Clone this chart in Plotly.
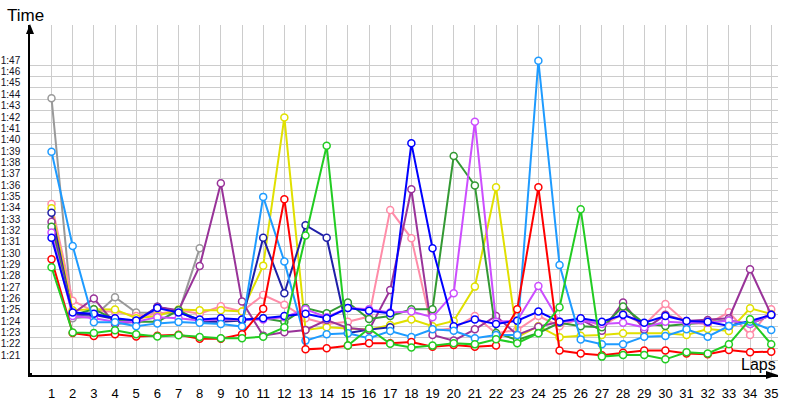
import plotly.graph_objects as go

laps = list(range(1, 36))

red = [89.5, 83.0, 82.73, 82.9, 82.7, 82.75, 82.85, 82.5, 82.5, 82.9, 85.15, 94.8, 81.56, 81.65, 81.9, 82.1, 82.1, 82.2,
       81.8, 81.95, 81.8, 81.9, 85.1, 95.84, 81.45, 81.2, 81.05, 81.27, 81.45, 81.45, 81.2, 81.12, 81.51, 81.3, 81.36]
green = [88.8, 83.05, 83.0, 83.25, 82.9, 82.7, 82.8, 82.65, 82.53, 82.55, 82.68, 83.5, 91.6, 99.5, 81.9, 83.4, 82.05,
         81.73, 81.89, 82.1, 82.0, 82.45, 82.1, 82.98, 85.27, 93.9, 80.92, 81.07, 81.07, 80.68, 81.3, 81.2, 82.01, 84.21, 82.01]
dark_green = [92.37, 84.6, 85.1, 84.2, 84.0, 84.0, 85.0, 84.1, 84.2, 84.1, 84.3, 84.0, 85.2, 84.74, 85.7, 84.24, 84.5,
              85.1, 85.1, 98.6, 96.0, 83.0, 82.4, 83.0, 83.9, 83.6, 83.5, 85.33, 83.86, 83.62, 83.8, 83.92, 84.1, 83.8, 84.59]
yellow = [94.0, 85.0, 85.1, 85.08, 84.3, 84.5, 85.08, 85.0, 85.0, 84.9, 88.94, 102.0, 83.27, 83.5, 83.4, 83.3, 83.7,
          84.2, 83.6, 84.06, 87.09, 95.84, 82.62, 83.6, 82.62, 82.76, 82.82, 82.97, 82.97, 82.98, 82.83, 83.36, 83.18, 85.18, 84.68]
light_blue = [98.98, 90.67, 83.94, 83.94, 83.6, 83.85, 83.97, 83.9, 83.8, 83.57, 95.0, 89.3, 82.33, 82.9, 82.98, 82.54,
              83.18, 82.65, 83.33, 83.2, 82.54, 82.83, 82.83, 107.0, 88.99, 82.44, 82.01, 82.02, 82.68, 82.74, 83.33, 82.68,
              83.62, 84.0, 83.27]
navy = [93.6, 84.6, 84.6, 84.23, 84.06, 85.32, 84.9, 84.0, 84.0, 84.1, 91.4, 86.5, 92.5, 91.4, 83.0, 83.3, 83.5]
blue = [91.4, 84.8, 84.7, 84.3, 84.1, 85.2, 84.8, 84.2, 84.3, 84.2, 84.3, 84.5, 84.7, 84.3, 85.2, 84.97, 84.74, 99.72,
        90.47, 83.6, 84.2, 83.8, 84.09, 84.89, 84.0, 84.3, 84.0, 84.6, 83.9, 84.5, 84.06, 84.0, 83.62, 84.06, 84.6]
violet = [91.87, 84.5, 84.3, 84.0, 84.0, 84.4, 84.3, 84.1, 84.2, 84.15, 84.2, 84.4, 85.1, 84.4, 85.2, 85.1, 84.8, 84.9,
          84.4, 86.5, 101.63, 84.0, 84.1, 87.15, 84.0, 84.1, 83.8, 83.9, 83.5, 84.0, 83.9, 83.9, 84.1, 83.8, 84.6]
purple = [92.8, 84.7, 86.05, 83.8, 84.0, 85.3, 85.0, 88.9, 96.2, 85.77, 82.77, 83.06, 83.27, 84.15, 83.45, 83.27, 86.8,
          95.67, 82.83, 82.33, 83.33, 84.5, 82.83, 83.56, 84.0, 84.2, 83.2, 85.7, 83.3, 84.6, 84.06, 84.15, 84.3, 88.62, 84.6]
pink = [94.37, 85.85, 84.9, 84.9, 84.5, 84.67, 85.0, 84.7, 85.35, 84.9, 86.35, 85.5, 84.3, 83.8, 84.0, 84.45, 93.85,
        91.35, 83.2, 83.42, 84.5, 82.98, 83.27, 84.5, 83.6, 84.3, 83.6, 84.7, 83.7, 85.55, 83.9, 83.8, 84.83, 82.83, 85.1]
gray = [103.7, 84.3, 84.45, 86.15, 84.8, 84.75, 84.75, 90.47]

tick_seconds = list(range(81, 108))
tick_labels = ["1:21", "1:22", "1:23", "1:24", "1:25", "1:26", "1:27", "1:28", "1:29", "1:30", "1:31", "1:32", "1:33",
               "1:34", "1:35", "1:36", "1:37", "1:38", "1:39", "1:40", "1:41", "1:42", "1:43", "1:44", "1:45", "1:46", "1:47"]
grid_offset = 0.4          # grid lines sit slightly below each label
y_range = [79.30, 110.15]
label_shift = -5           # pixels: move labels up onto their value

series = [
    (gray, "#999999"),
    (pink, "#ff8ca8"),
    (yellow, "#e0e000"),
    (navy, "#1f1fa8"),
    (purple, "#993399"),
    (dark_green, "#339933"),
    (violet, "#cc4dff"),
    (blue, "#0000ff"),
    (light_blue, "#1e9bff"),
    (red, "#ff0000"),
    (green, "#22cc22"),
]

fig = go.Figure()
for vals, col in series:
    fig.add_trace(go.Scatter(
        x=laps[:len(vals)], y=vals, mode="lines+markers",
        line=dict(color=col, width=2),
        marker=dict(symbol="circle", size=7, color="white", line=dict(color=col, width=1.5)),
        showlegend=False, hoverinfo="skip"))

font = "Liberation Sans"
fig.update_layout(
    width=800, height=400,
    margin=dict(l=30, r=22, t=25, b=25, autoexpand=False),
    paper_bgcolor="white", plot_bgcolor="white",
    xaxis=dict(range=[-0.016, 35.32], tickmode="array", tickvals=laps, ticktext=[str(v) for v in laps],
               automargin=False,
               showgrid=True, gridcolor="#cccccc", gridwidth=1, zeroline=False,
               showline=True, linecolor="black", linewidth=1.5,
               tickfont=dict(family=font, size=13, color="black"),
               ticks="outside", ticklen=6, tickcolor="rgba(0,0,0,0)"),
    yaxis=dict(range=y_range, tickmode="array", tickvals=[s - grid_offset for s in tick_seconds], ticktext=tick_labels,
               automargin=False, ticklabelshift=label_shift,
               showgrid=True, gridcolor="#cccccc", gridwidth=1,
               zeroline=False, showline=True, linecolor="black", linewidth=1.5,
               tickfont=dict(family=font, size=10, color="#111122"),
               ticks="outside", ticklen=6, tickcolor="rgba(0,0,0,0)"),
    font=dict(family=font),
)

fig.add_annotation(text="Time", xref="paper", yref="paper", x=0, y=1, xanchor="center", yanchor="middle",
                   xshift=-5, yshift=10, showarrow=False, font=dict(family=font, size=17, color="black"))
fig.add_annotation(text="Laps", xref="paper", yref="paper", x=1, y=0, xanchor="center", yanchor="middle",
                   xshift=-20, yshift=11, showarrow=False, font=dict(family=font, size=16, color="black"))

# axis arrow heads and origin marker
fig.add_shape(type="path", xref="paper", yref="paper", xsizemode="pixel", ysizemode="pixel",
              xanchor=0, yanchor=1, path="M0,1 L-4,-9 L4,-9 Z", fillcolor="black", line=dict(width=0))
fig.add_shape(type="path", xref="paper", yref="paper", xsizemode="pixel", ysizemode="pixel",
              xanchor=1, yanchor=0, path="M0,0 L-12,-4 L-12,4 Z", fillcolor="black", line=dict(width=0))
fig.add_shape(type="rect", xref="paper", yref="paper", xsizemode="pixel", ysizemode="pixel",
              xanchor=0, yanchor=0, x0=-2, x1=2, y0=-2, y1=2, fillcolor="black", line=dict(width=0))

fig.write_html("out.html")
